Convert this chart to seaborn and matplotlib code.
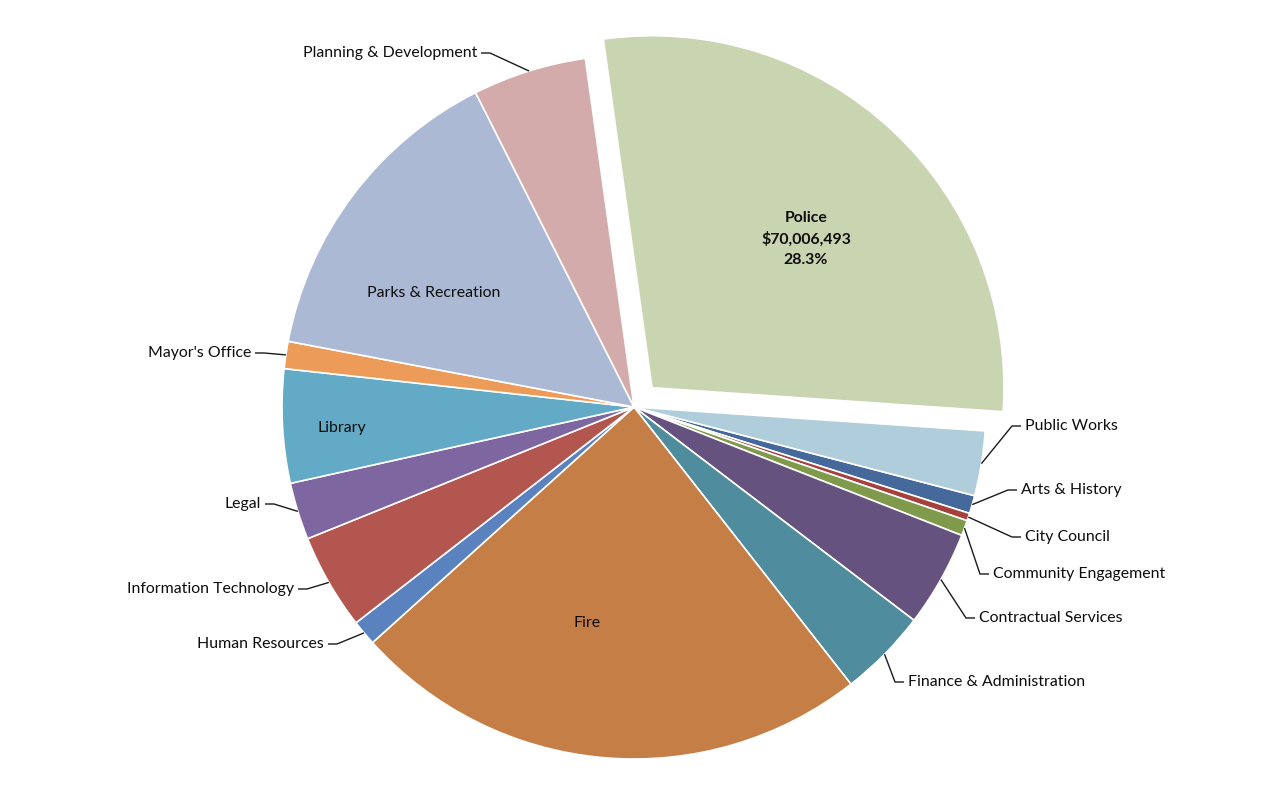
import numpy as np
import matplotlib
matplotlib.use("Agg")
import matplotlib.pyplot as plt
import seaborn as sns

# ---------------- data ----------------
departments = ["Arts & History", "City Council", "Community Engagement", "Contractual Services",
               "Finance & Administration", "Fire", "Human Resources", "Information Technology",
               "Legal", "Library", "Mayor's Office", "Parks & Recreation",
               "Planning & Development", "Police", "Public Works"]
budget = [2060000, 860000, 1750000, 10930000, 10070000, 59130000, 2890000, 10890000,
          6490000, 12920000, 3090000, 36080000, 12920000, 70006493, 7350000]
colors = ["#44699A", "#A5403C", "#7F9A4B", "#66527F", "#4E8C9E", "#C47E46", "#5A82BE",
          "#B3564F", "#7E66A0", "#62AAC5", "#EC9B58", "#ABB9D4", "#D3ABAA", "#C9D5B1",
          "#AFCDDA"]
exploded = "Police"

# ---------------- layout (pixels) ----------------
W, H = 1280, 812
CX, CY, R = 634, 408, 352

outside_pos = {
    "Planning & Development": (477, 52, "right"),
    "Public Works": (1025, 425, "left"),
    "Arts & History": (1021, 489, "left"),
    "City Council": (1025, 536, "left"),
    "Community Engagement": (993, 573, "left"),
    "Contractual Services": (979, 617, "left"),
    "Finance & Administration": (908, 681, "left"),
    "Mayor's Office": (251, 352, "right"),
    "Legal": (261, 503, "right"),
    "Information Technology": (294, 588, "right"),
    "Human Resources": (324, 643, "right"),
}
inside_pos = {"Police": (806, 239), "Parks & Recreation": (434, 293),
              "Library": (342, 428), "Fire": (587, 623)}


def px(x, y):
    return (x - CX) / R, (CY - y) / R


sns.set_theme(style="white")
plt.rcParams["font.family"] = ["Lato", "DejaVu Sans"]

fig = plt.figure(figsize=(W / 100, H / 100), dpi=100)
ax = fig.add_axes([0, 0, 1, 1])

explode = [0.075 if d == exploded else 0 for d in departments]
wedges, _ = ax.pie(budget, colors=colors, startangle=-14.6, counterclock=False,
                   explode=explode, radius=1, center=(0, 0),
                   wedgeprops=dict(edgecolor="white", linewidth=1.2))

total = float(np.sum(budget))
fs = 11.4
tc = "#0d0d0d"
for d, v, w in zip(departments, budget, wedges):
    mid = np.deg2rad((w.theta1 + w.theta2) / 2)
    cx, cy = w.center
    if d in inside_pos:
        x, y = px(*inside_pos[d])
        if d == exploded:
            ax.text(x, y, f"{d}\n${v:,.0f}\n{v / total * 100:.1f}%", ha="center", va="center",
                    fontsize=fs, fontweight="bold", color=tc, linespacing=1.55)
        else:
            ax.text(x, y, d, ha="center", va="center", fontsize=fs, color=tc)
    else:
        tx, ty, ha = outside_pos[d]
        sx, sy = cx + np.cos(mid), cy + np.sin(mid)
        sgn = -1 if ha == "left" else 1
        ex, ey = px(tx + sgn * 4, ty + 2)
        bx, by = px(tx + sgn * 13, ty + 2)
        ax.plot([sx, bx, ex], [sy, by, ey], color="#1a1a1a", lw=1.0, solid_capstyle="butt")
        x, y = px(tx, ty + 1)
        ax.text(x, y, d, ha=ha, va="center", fontsize=fs, color=tc)

ax.set_xlim(-CX / R, (W - CX) / R)
ax.set_ylim(-(H - CY) / R, CY / R)
ax.set_aspect("auto")
ax.axis("off")

fig.savefig("out.png", dpi=100, facecolor="white")
